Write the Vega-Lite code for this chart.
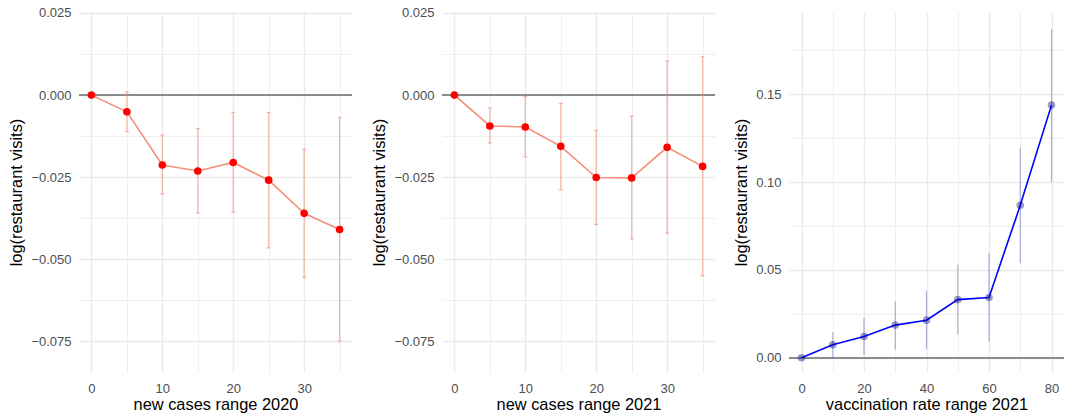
{
  "$schema": "https://vega.github.io/schema/vega-lite/v6.json",
  "background": "white",
  "padding": {"left": 8, "top": 6, "right": 2, "bottom": 3},
  "spacing": 17,
  "datasets": {
    "p1": [
      {"x": 0, "y": 0, "lo": null, "hi": null},
      {"x": 5, "y": -0.0051, "lo": -0.0111, "hi": 0.0010},
      {"x": 10, "y": -0.0213, "lo": -0.0301, "hi": -0.0122},
      {"x": 15, "y": -0.0231, "lo": -0.0359, "hi": -0.0102},
      {"x": 20, "y": -0.0205, "lo": -0.0356, "hi": -0.0053},
      {"x": 25, "y": -0.0259, "lo": -0.0465, "hi": -0.0053},
      {"x": 30, "y": -0.0360, "lo": -0.0555, "hi": -0.0165},
      {"x": 35, "y": -0.0409, "lo": -0.0749, "hi": -0.0068}
    ],
    "p2": [
      {"x": 0, "y": 0, "lo": null, "hi": null},
      {"x": 5, "y": -0.0094, "lo": -0.0146, "hi": -0.0039},
      {"x": 10, "y": -0.0097, "lo": -0.0188, "hi": -0.0005},
      {"x": 15, "y": -0.0156, "lo": -0.0288, "hi": -0.0025},
      {"x": 20, "y": -0.0251, "lo": -0.0394, "hi": -0.0107},
      {"x": 25, "y": -0.0252, "lo": -0.0438, "hi": -0.0064},
      {"x": 30, "y": -0.0159, "lo": -0.0420, "hi": 0.0104},
      {"x": 35, "y": -0.0217, "lo": -0.0550, "hi": 0.0117}
    ],
    "p3": [
      {"x": 0, "y": 0, "lo": null, "hi": null},
      {"x": 10, "y": 0.0074, "lo": 0.0000, "hi": 0.0146},
      {"x": 20, "y": 0.0121, "lo": 0.0017, "hi": 0.0226},
      {"x": 30, "y": 0.0186, "lo": 0.0045, "hi": 0.0322},
      {"x": 40, "y": 0.0214, "lo": 0.0051, "hi": 0.0379},
      {"x": 50, "y": 0.0331, "lo": 0.0132, "hi": 0.0530},
      {"x": 60, "y": 0.0343, "lo": 0.0093, "hi": 0.0597},
      {"x": 70, "y": 0.0868, "lo": 0.0538, "hi": 0.1197},
      {"x": 80, "y": 0.1438, "lo": 0.1000, "hi": 0.1873}
    ]
  },
  "config": {
    "view": {"stroke": null},
    "axis": {
      "domain": false,
      "ticks": false,
      "labelFont": "Liberation Sans",
      "labelFontSize": 13,
      "labelColor": "#4D4D4D",
      "titleFont": "Liberation Sans",
      "titleFontSize": 16.4,
      "titleFontWeight": "normal",
      "titleColor": "#000000",
      "gridColor": "#EBEBEB"
    },
    "axisX": {"labelPadding": 10, "titlePadding": 1},
    "axisY": {"labelPadding": 8, "titlePadding": 6}
  },
  "hconcat": [
    {
      "spacing": 18,
      "hconcat": [
        {
          "width": 273,
          "height": 360,
          "data": {"name": "p1"},
          "encoding": {
            "x": {
              "field": "x", "type": "quantitative",
              "scale": {"domain": [-1.75, 36.75], "nice": false, "zero": false},
              "axis": {
                "title": "new cases range 2020",
                "values": [0, 5, 10, 15, 20, 25, 30, 35],
                "labelExpr": "datum.value % 10 == 0 ? datum.label : ''",
                "gridWidth": {"condition": {"test": "datum.value % 10 == 0", "value": 1.5}, "value": 0.8}
              }
            },
            "y": {
              "field": "y", "type": "quantitative",
              "scale": {"domain": [-0.0843, 0.0253], "nice": false, "zero": false},
              "axis": {
                "title": "log(restaurant visits)",
                "format": ".3f",
                "values": [-0.075, -0.0625, -0.05, -0.0375, -0.025, -0.0125, 0, 0.0125, 0.025],
                "labelExpr": "abs(datum.value*40 - round(datum.value*40)) < 1e-6 ? datum.label : ''",
                "gridWidth": {"condition": {"test": "abs(datum.value*40 - round(datum.value*40)) < 1e-6", "value": 1.5}, "value": 0.8}
              }
            }
          },
          "layer": [
            {"mark": {"type": "rule", "color": "#8C8C8C", "strokeWidth": 1.3}, "encoding": {"x": null, "y": {"datum": 0}}},
            {"mark": {"type": "errorbar", "color": "#EE8A6E", "opacity": 0.6, "thickness": 1.2, "ticks": {"size": 4}}, "encoding": {"y": {"field": "lo", "type": "quantitative"}, "y2": {"field": "hi"}}},
            {"mark": {"type": "line", "color": "#F4907A", "strokeWidth": 1.6}},
            {"mark": {"type": "point", "filled": true, "color": "#FF0000", "opacity": 1, "size": 58}}
          ]
        },
        {
          "width": 273,
          "height": 360,
          "data": {"name": "p2"},
          "encoding": {
            "x": {
              "field": "x", "type": "quantitative",
              "scale": {"domain": [-1.75, 36.75], "nice": false, "zero": false},
              "axis": {
                "title": "new cases range 2021",
                "values": [0, 5, 10, 15, 20, 25, 30, 35],
                "labelExpr": "datum.value % 10 == 0 ? datum.label : ''",
                "gridWidth": {"condition": {"test": "datum.value % 10 == 0", "value": 1.5}, "value": 0.8}
              }
            },
            "y": {
              "field": "y", "type": "quantitative",
              "scale": {"domain": [-0.0843, 0.0253], "nice": false, "zero": false},
              "axis": {
                "title": "log(restaurant visits)",
                "format": ".3f",
                "values": [-0.075, -0.0625, -0.05, -0.0375, -0.025, -0.0125, 0, 0.0125, 0.025],
                "labelExpr": "abs(datum.value*40 - round(datum.value*40)) < 1e-6 ? datum.label : ''",
                "gridWidth": {"condition": {"test": "abs(datum.value*40 - round(datum.value*40)) < 1e-6", "value": 1.5}, "value": 0.8}
              }
            }
          },
          "layer": [
            {"mark": {"type": "rule", "color": "#8C8C8C", "strokeWidth": 1.3}, "encoding": {"x": null, "y": {"datum": 0}}},
            {"mark": {"type": "errorbar", "color": "#EE8A6E", "opacity": 0.6, "thickness": 1.2, "ticks": {"size": 4}}, "encoding": {"y": {"field": "lo", "type": "quantitative"}, "y2": {"field": "hi"}}},
            {"mark": {"type": "line", "color": "#F4907A", "strokeWidth": 1.6}},
            {"mark": {"type": "point", "filled": true, "color": "#FF0000", "opacity": 1, "size": 58}}
          ]
        }
      ]
    },
    {
      "width": 275,
      "height": 360,
      "data": {"name": "p3"},
      "encoding": {
        "x": {
          "field": "x", "type": "quantitative",
          "scale": {"domain": [-4, 84], "nice": false, "zero": false},
          "axis": {
            "title": "vaccination rate range 2021",
            "values": [0, 10, 20, 30, 40, 50, 60, 70, 80],
            "labelExpr": "datum.value % 20 == 0 ? datum.label : ''",
            "gridWidth": {"condition": {"test": "datum.value % 20 == 0", "value": 1.5}, "value": 0.8}
          }
        },
        "y": {
          "field": "y", "type": "quantitative",
          "scale": {"domain": [-0.0081, 0.1968], "nice": false, "zero": false},
          "axis": {
            "title": "log(restaurant visits)",
            "format": ".2f",
            "values": [0, 0.025, 0.05, 0.075, 0.1, 0.125, 0.15, 0.175],
            "labelExpr": "abs(datum.value*20 - round(datum.value*20)) < 1e-6 ? datum.label : ''",
            "gridWidth": {"condition": {"test": "abs(datum.value*20 - round(datum.value*20)) < 1e-6", "value": 1.5}, "value": 0.8}
          }
        }
      },
      "layer": [
        {"mark": {"type": "rule", "color": "#8C8C8C", "strokeWidth": 1.3}, "encoding": {"x": null, "y": {"datum": 0}}},
        {"mark": {"type": "errorbar", "color": "#000080", "opacity": 0.3, "thickness": 1.2, "ticks": false}, "encoding": {"y": {"field": "lo", "type": "quantitative"}, "y2": {"field": "hi"}}},
        {"mark": {"type": "line", "color": "#0000FF", "strokeWidth": 1.6}},
        {"mark": {"type": "point", "filled": true, "color": "#000080", "opacity": 0.4, "size": 58}}
      ]
    }
  ]
}
